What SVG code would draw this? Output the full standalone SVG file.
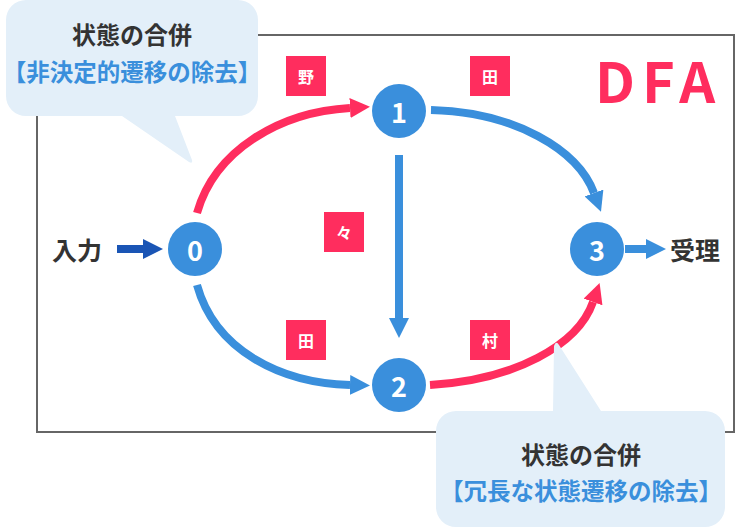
<svg xmlns="http://www.w3.org/2000/svg" width="736" height="528" viewBox="0 0 736 528">
<defs>
<style>
text{font-family:"Noto Sans CJK JP","Noto Sans",sans-serif;font-weight:bold}
.frame{fill:none;stroke:#666;stroke-width:2}
.callout{fill:#e3eff9}
.ct1{font-size:24px;fill:#333;text-anchor:middle}
.ct2{font-size:23.5px;fill:#3a8fdc;text-anchor:middle}
.node{fill:#3a8fdc}
.nt{font-size:27px;fill:#fff;text-anchor:middle;dominant-baseline:central}
.lab{fill:#ff2d5e}
.lt{font-size:16px;fill:#fff;text-anchor:middle;dominant-baseline:central}
.io{font-size:25px;fill:#333;font-weight:bold;dominant-baseline:central}
.eb{fill:none;stroke:#3a8fdc;stroke-width:8}
.er{fill:none;stroke:#ff2d5e;stroke-width:8}
.ed{fill:none;stroke:#1a55b5;stroke-width:8}
</style>
<marker id="ab" markerUnits="userSpaceOnUse" markerWidth="20" markerHeight="20" refX="0" refY="10" orient="auto"><path d="M0,0 L20,10 L0,20 z" fill="#3a8fdc"/></marker>
<marker id="ar" markerUnits="userSpaceOnUse" markerWidth="20" markerHeight="20" refX="0" refY="10" orient="auto"><path d="M0,0 L20,10 L0,20 z" fill="#ff2d5e"/></marker>
<marker id="ad" markerUnits="userSpaceOnUse" markerWidth="20" markerHeight="20" refX="0" refY="10" orient="auto"><path d="M0,0 L20,10 L0,20 z" fill="#1a55b5"/></marker>
</defs>
<rect class="frame" x="37" y="35" width="697" height="397"/>
<text x="595" y="103" font-size="56" fill="#ff2d5e" letter-spacing="7" style="font-family:'Noto Sans CJK JP',sans-serif">DFA</text>
<g id="connectors">
<path class="er" d="M197,213 C215,150 280,112 350,108" marker-end="url(#ar)"/>
<path class="eb" d="M431,110 C515,112 578,150 594,193" marker-end="url(#ab)"/>
<path class="eb" d="M399,155 L399,318" marker-end="url(#ab)"/>
<path class="eb" d="M197,285 C215,350 280,383 350,385" marker-end="url(#ab)"/>
<path class="er" d="M430,385 C515,380 578,345 593,302" marker-end="url(#ar)"/>
<path class="ed" d="M117,249 L143,249" marker-end="url(#ad)"/>
<path class="eb" d="M625,249 L646,249" marker-end="url(#ab)"/>
</g>
<g id="label-no"><rect class="lab" x="286" y="56" width="40" height="40"/><text class="lt" x="306" y="76">野</text></g>
<g id="label-ta1"><rect class="lab" x="470" y="56" width="40" height="40"/><text class="lt" x="490" y="76">田</text></g>
<g id="label-noma"><rect class="lab" x="324" y="212" width="40" height="40"/><text class="lt" x="344" y="232">々</text></g>
<g id="label-ta2"><rect class="lab" x="286" y="320" width="40" height="40"/><text class="lt" x="306" y="340">田</text></g>
<g id="label-mura"><rect class="lab" x="470" y="320" width="40" height="40"/><text class="lt" x="490" y="340">村</text></g>
<g id="node0"><circle class="node" cx="195" cy="249" r="27"/><text class="nt" x="195" y="249">0</text></g>
<g id="node1"><circle class="node" cx="399" cy="111" r="27"/><text class="nt" x="399" y="111">1</text></g>
<g id="node2"><circle class="node" cx="399" cy="385" r="27"/><text class="nt" x="399" y="385">2</text></g>
<g id="node3"><circle class="node" cx="597" cy="249" r="27"/><text class="nt" x="597" y="249">3</text></g>
<g id="input"><text class="io" x="52" y="249">入力</text></g>
<g id="accept"><text class="io" x="670" y="249">受理</text></g>
<g id="callout1">
<path class="callout" d="M26,0 H238 A20,20 0 0 1 258,20 V96 A20,20 0 0 1 238,116 H175 L192,160 Q193,164 189,162 L122,116 H26 A20,20 0 0 1 6,96 V20 A20,20 0 0 1 26,0 Z"/>
<text class="ct1" x="132" y="44">状態の合併</text>
<text class="ct2" x="132" y="81">【非決定的遷移の除去】</text>
</g>
<g id="callout2">
<path class="callout" d="M456,411 H553 L554,346 Q556,340 559,345 L601,411 H705 A20,20 0 0 1 725,431 V507 A20,20 0 0 1 705,527 H456 A20,20 0 0 1 436,507 V431 A20,20 0 0 1 456,411 Z"/>
<text class="ct1" x="581" y="464">状態の合併</text>
<text class="ct2" x="581" y="500">【冗長な状態遷移の除去】</text>
</g>
</svg>
